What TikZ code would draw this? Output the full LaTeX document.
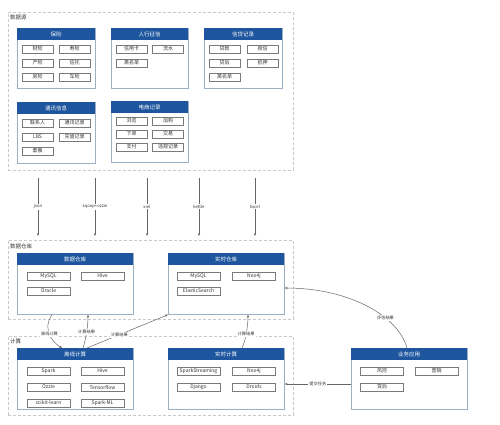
\documentclass[tikz,border=0pt]{standalone}
\usepackage{fontspec}
\setmainfont{Noto Sans CJK SC}
\usepackage{xcolor}
\usetikzlibrary{arrows.meta, calc}
\definecolor{band}{HTML}{1D569E}
\definecolor{frame}{HTML}{9AB0C4}
\definecolor{edge}{HTML}{7A7A7A}
\definecolor{dash}{HTML}{C8C8C8}
\definecolor{ink}{HTML}{333333}
\definecolor{wire}{HTML}{666666}

\begin{document}
\begin{tikzpicture}[x=1pt, y=-1pt,
  cont/.style={draw=dash, densely dashed, line width=0.5pt, anchor=north west, inner sep=0pt},
  grp/.style={draw=frame, line width=0.7pt, fill=white, anchor=north west, inner sep=0pt},
  hdr/.style={fill=band, text=white, anchor=north west, inner sep=0pt, minimum height=12pt, font=\fontsize{5.5}{6}\selectfont},
  itm/.style={draw=edge, fill=white, line width=0.7pt, minimum width=31pt, minimum height=8pt, inner sep=0pt, text=ink, font=\fontsize{5}{5}\selectfont},
  wide/.style={itm, minimum width=43pt},
  ttl/.style={anchor=west, inner sep=0pt, text=ink, font=\fontsize{5.5}{6}\selectfont},
  lbl/.style={fill=white, inner sep=1pt, text=ink, font=\fontsize{4.2}{5}\selectfont},
  arr/.style={draw=wire, line width=0.5pt, -{Stealth[length=3pt, width=2.4pt]}}]
  \useasboundingbox (0,0) rectangle (500,424);

  % three dashed zones
  \node[cont, minimum width=285pt, minimum height=158pt] (src) at (8,12) {};
  \node[cont, minimum width=285pt, minimum height=79pt] (wh) at (8,240) {};
  \node[cont, minimum width=285pt, minimum height=79pt] (cmp) at (8,336) {};
  \node[ttl] (srct) at (10,17) {数据源};
  \node[ttl] (wht) at (10,246) {数据仓库};
  \node[ttl] (cmpt) at (10,341) {计算};

  % source groups
  \node[grp, minimum width=78pt, minimum height=60pt] (ins) at (17,28) {};
  \node[hdr, minimum width=78pt] (insh) at (ins.north west) {保险};
  \node[grp, minimum width=77pt, minimum height=60pt] (pbc) at (111,28) {};
  \node[hdr, minimum width=77pt] (pbch) at (pbc.north west) {人行征信};
  \node[grp, minimum width=78pt, minimum height=60pt] (loan) at (204,28) {};
  \node[hdr, minimum width=78pt] (loanh) at (loan.north west) {信贷记录};
  \node[grp, minimum width=78pt, minimum height=61pt] (tel) at (17,102) {};
  \node[hdr, minimum width=78pt] (telh) at (tel.north west) {通讯信息};
  \node[grp, minimum width=77pt, minimum height=61pt] (ecom) at (111,101) {};
  \node[hdr, minimum width=77pt] (ecomh) at (ecom.north west) {电商记录};

  \foreach \n/\x/\y/\t in {a1/37.5/49/财险, a2/74.5/49/寿险, a3/37.5/63/产险, a4/74.5/63/信托,
    a5/37.5/77/房险, a6/74.5/77/车险,
    b1/131.5/49/信用卡, b2/168/49/流水, b3/131.5/63/黑名单,
    c1/224.5/49/贷款, c2/262.5/49/授信, c3/224.5/63/贷后, c4/262.5/63/抵押, c5/224.5/77/黑名单,
    d1/37.5/123/联系人, d2/74.5/123/通讯记录, d3/37.5/137/LBS, d4/74.5/137/充值记录, d5/37.5/151/套餐,
    e1/131.5/121/浏览, e2/168/121/加购, e3/131.5/134/下单, e4/168/134/交易,
    e5/131.5/147/支付, e6/168/147/违规记录}
    \node[itm] (\n) at (\x,\y) {\t};

  % warehouse, compute and business groups
  \node[grp, minimum width=116pt, minimum height=61pt] (dw) at (17,253) {};
  \node[hdr, minimum width=116pt] (dwh) at (dw.north west) {数据仓库};
  \node[grp, minimum width=116pt, minimum height=61pt] (rtw) at (168,253) {};
  \node[hdr, minimum width=116pt] (rtwh) at (rtw.north west) {实时仓库};
  \node[grp, minimum width=116pt, minimum height=61pt] (off) at (17,348) {};
  \node[hdr, minimum width=116pt] (offh) at (off.north west) {离线计算};
  \node[grp, minimum width=116pt, minimum height=61pt] (rtc) at (168,348) {};
  \node[hdr, minimum width=116pt] (rtch) at (rtc.north west) {实时计算};
  \node[grp, minimum width=116pt, minimum height=61pt] (biz) at (351,348) {};
  \node[hdr, minimum width=116pt] (bizh) at (biz.north west) {业务应用};

  \foreach \n/\x/\y/\t in {f1/48.5/276/MySQL, f2/102.5/276/Hive, f3/48.5/291/Oracle,
    g1/198.5/276/MySQL, g2/254/276/Neo4j, g3/198.5/291/ElasticSearch,
    h1/48.5/371/Spark, h2/102.5/371/Hive, h3/48.5/387/Ozzie, h4/102.5/387/Tensorflow,
    h5/48.5/403/scikit-learn, h6/102.5/403/Spark-ML,
    k1/198.5/371/SparkStreaming, k2/254/371/Neo4j, k3/198.5/387/Django, k4/254/387/Droids,
    m1/382/371/风控, m2/436.5/371/营销, m3/382/387/贷后}
    \node[wide] (\n) at (\x,\y) {\t};

  % ingestion
  \foreach \x/\t in {38/json, 95/sqoop+ozzie, 147/xml, 199/kettle, 255/Excel}
    \draw[arr] ($(src.south -| \x,0)+(0,7)$) -- node[lbl]{\t} ($(wh.north -| \x,0)+(0,-4)$);

  % flows between layers
  \draw[arr] ($(dw.south west)+(35,0)$) .. controls +(-10,14) and +(-10,-6) .. node[lbl]{离线计算} ($(off.north west)+(45,0)$);
  \draw[arr] ($(off.north west)+(66,0)$) .. controls +(3,-10) and +(0,12) .. node[lbl]{计算结果} ($(dw.south west)+(71,0)$);
  \draw[arr] ($(off.north west)+(70,0)$) -- node[lbl, pos=0.4]{计算结果} (rtw.south west);
  \draw[arr] ($(rtc.north west)+(74,0)$) .. controls +(4,-8) and +(0,10) .. node[lbl, pos=0.45]{计算结果} ($(rtw.south west)+(80,0)$);
  \draw[arr] ($(biz.north west)+(56,0)$) .. controls +(-10,-35) and +(60,0) .. node[lbl, pos=0.32]{评估结果} ($(rtw.north east)+(0,35)$);
  \draw[arr] ($(biz.north west)+(0,36)$) -- node[lbl]{提交任务} ($(rtc.north east)+(0,36)$);
\end{tikzpicture}
\end{document}
